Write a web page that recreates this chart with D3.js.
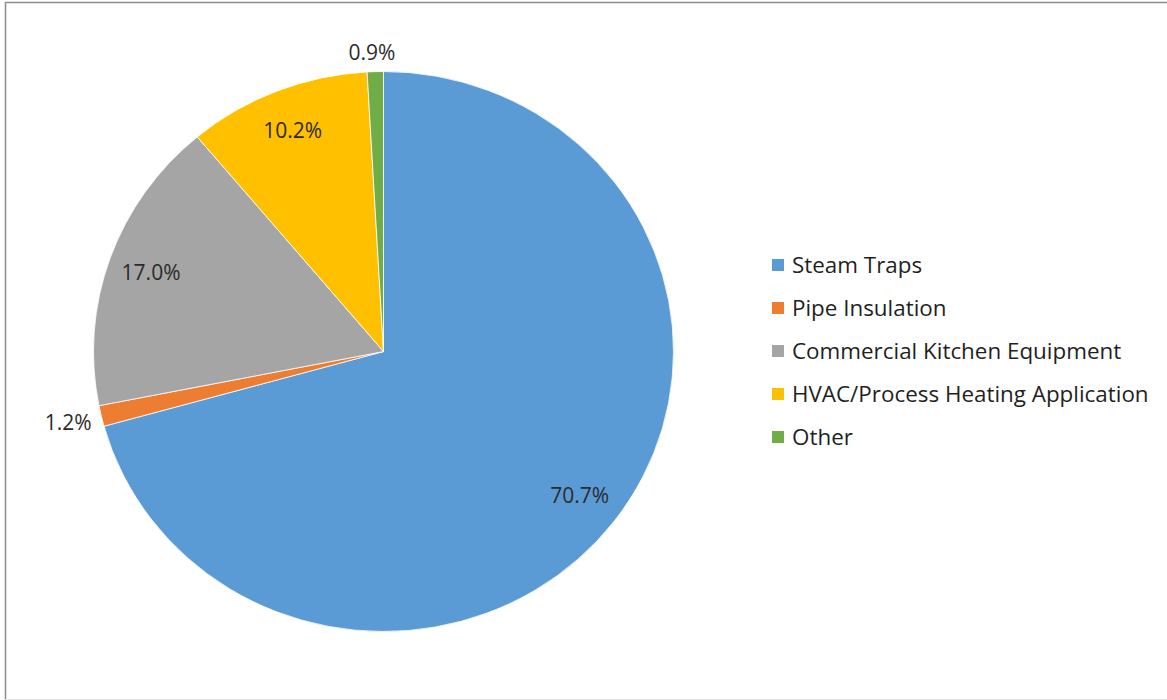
<!DOCTYPE html>
<html>
<head>
<meta charset="utf-8">
<script src="https://cdn.jsdelivr.net/npm/d3@7"></script>
<style>
  body { margin: 0; background: #fff; }
  svg { display: block; font-family: "Segoe UI", "Open Sans", sans-serif; }
</style>
</head>
<body>
<div id="chart"></div>
<script>
// Data
const categories = ['Steam Traps', 'Pipe Insulation', 'Commercial Kitchen Equipment', 'HVAC/Process Heating Application', 'Other']
const shares = [70.7, 1.2, 17.0, 10.2, 0.9]
const labels = ['70.7%', '1.2%', '17.0%', '10.2%', '0.9%']
const colors = ['#5B9BD5', '#ED7D31', '#A5A5A5', '#FFC000', '#70AD47']
const outside = [false, true, false, false, true]

const width = 1167, height = 700
const cx = 383.5, cy = 351.5
const rx = 290, ry = 280

const svg = d3.select('#chart').append('svg')
  .attr('width', width)
  .attr('height', height)

// chart area border
svg.append('line').attr('x1', 5.5).attr('x2', 5.5).attr('y1', 2).attr('y2', 700)
  .attr('stroke', '#8c8c8c').attr('stroke-width', 1.5)
svg.append('line').attr('x1', 5).attr('x2', 1167).attr('y1', 2.5).attr('y2', 2.5)
  .attr('stroke', '#8c8c8c').attr('stroke-width', 1.5)
svg.append('line').attr('x1', 5).attr('x2', 1167).attr('y1', 699.5).attr('y2', 699.5)
  .attr('stroke', '#e6e6e6').attr('stroke-width', 1)

const pie = d3.pie().sort(null).value(d => d)
const arcs = pie(shares)
const arc = d3.arc().innerRadius(0).outerRadius(rx)

const g = svg.append('g')
  .attr('transform', `translate(${cx},${cy}) scale(1,${ry / rx})`)

g.selectAll('path')
  .data(arcs)
  .join('path')
  .attr('d', arc)
  .attr('fill', (d, i) => colors[i])
  .attr('stroke', '#fff')
  .attr('stroke-width', 0.8)

// data labels
arcs.forEach((d, i) => {
  const a = (d.startAngle + d.endAngle) / 2
  const s = Math.sin(a), c = -Math.cos(a)
  let x, y, anchor = 'middle'
  if (!outside[i]) {
    x = cx + 0.85 * rx * s
    y = cy + 0.85 * ry * c
  } else {
    const k = 10
    x = cx + (rx + k) * s
    y = cy + (ry + k) * c
    if (s < -0.3) anchor = 'end'
    else if (s > 0.3) anchor = 'start'
    if (Math.abs(s) <= 0.3) { y += c < 0 ? -9 : 9; x -= 3 }
    else y += 4
  }
  svg.append('text')
    .attr('x', x)
    .attr('y', y)
    .attr('dy', '0.35em')
    .attr('text-anchor', anchor)
    .attr('fill', '#2b2b2b')
    .attr('font-size', 21)
    .text(labels[i])
})

// legend
const legendY = d3.scalePoint().domain(categories).range([265, 437])
const legend = svg.append('g')
categories.forEach((cat, i) => {
  const y = legendY(cat)
  legend.append('rect')
    .attr('x', 772).attr('y', y - 6)
    .attr('width', 12).attr('height', 12)
    .attr('fill', colors[i])
  legend.append('text')
    .attr('x', 792).attr('y', y)
    .attr('dy', '0.35em')
    .attr('fill', '#1f1f1f')
    .attr('font-size', 22.4)
    .text(cat)
})
</script>
</body>
</html>
